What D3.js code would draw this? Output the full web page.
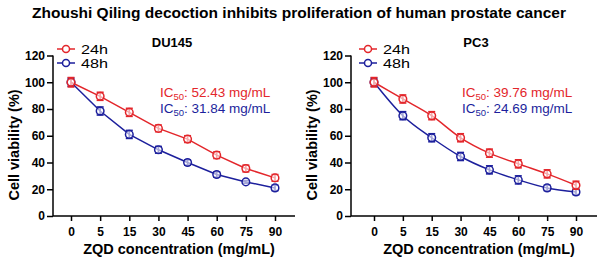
<!DOCTYPE html>
<html>
<head>
<meta charset="utf-8">
<script src="https://cdn.jsdelivr.net/npm/d3@7"></script>
<style>
  body { margin: 0; background: #fff; }
  svg { font-family: Arial, "Liberation Sans", sans-serif; }
</style>
</head>
<body>
<div id="chart"></div>
<script>
const concentrations = ["0", "5", "15", "30", "45", "60", "75", "90"];
const yTicks = [0, 20, 40, 60, 80, 100, 120];

const du145_24h = [100, 89.5, 77.5, 65.5, 57.5, 45.5, 35.5, 28.5];
const du145_24h_err = [3.5, 3, 3, 2.5, 2.5, 2.5, 2.5, 2.5];
const du145_48h = [100, 78.5, 61, 49.5, 40, 31, 25.5, 21];
const du145_48h_err = [3, 3, 3, 2.5, 2, 2, 1, 2];

const pc3_24h = [100, 87.5, 75, 58.5, 47, 39, 31.5, 23];
const pc3_24h_err = [3.5, 3, 3, 3, 3, 3, 3, 3];
const pc3_48h = [100, 75, 58.5, 44.5, 34.5, 27, 21, 18];
const pc3_48h_err = [3, 3, 3, 3, 3, 3, 2, 2];

const red = "#e3262b";
const blue = "#1c1f9c";

const svg = d3.select("#chart")
    .append("svg")
    .attr("width", 600)
    .attr("height", 261);

svg.append("text")
    .attr("x", 299)
    .attr("y", 18)
    .attr("text-anchor", "middle")
    .style("font-size", "15.5px")
    .style("font-weight", "bold")
    .text("Zhoushi Qiling decoction inhibits proliferation of human prostate cancer");

const yScale = d3.scaleLinear().domain([0, 120]).range([216, 55.5]);

function panel(opt) {
    const g = svg.append("g");
    const xScale = d3.scalePoint().domain(concentrations).range([opt.x0, opt.x1]);

    // y axis
    const yAxis = g.append("g")
        .attr("transform", `translate(${opt.axisX},0)`)
        .call(d3.axisLeft(yScale).tickValues(yTicks).tickSize(6).tickPadding(2));
    yAxis.select(".domain").remove();
    yAxis.append("line").attr("y1", yScale(0)).attr("y2", yScale(120)).attr("stroke", "black").attr("stroke-width", 1.5);
    yAxis.selectAll(".tick line").attr("stroke-width", 1.5);
    yAxis.selectAll("text")
        .style("font-size", "12px")
        .style("font-weight", "bold")
        .style("font-family", "Arial, 'Liberation Sans', sans-serif")
        .attr("fill", "black");

    // x axis
    const xAxis = g.append("g")
        .attr("transform", `translate(0,${yScale(0)})`)
        .call(d3.axisBottom(xScale).tickSize(5).tickPadding(6));
    xAxis.select(".domain").remove();
    xAxis.append("line").attr("x1", opt.axisX).attr("x2", opt.axisEnd).attr("stroke", "black").attr("stroke-width", 1.5);
    xAxis.selectAll(".tick line").attr("stroke-width", 1.5);
    xAxis.selectAll("text")
        .style("font-size", "12px")
        .style("font-weight", "bold")
        .style("font-family", "Arial, 'Liberation Sans', sans-serif")
        .attr("fill", "black");

    g.append("text")
        .attr("x", (opt.axisX + opt.axisEnd) / 2 + 5)
        .attr("y", 254)
        .attr("text-anchor", "middle")
        .style("font-size", "14.5px")
        .style("font-weight", "bold")
        .text("ZQD concentration (mg/mL)");

    g.append("text")
        .attr("transform", "rotate(-90)")
        .attr("x", -145)
        .attr("y", opt.axisX - 34)
        .attr("text-anchor", "middle")
        .style("font-size", "14.5px")
        .style("font-weight", "bold")
        .text("Cell viability (%)");

    g.append("text")
        .attr("x", opt.titleX)
        .attr("y", 47)
        .attr("text-anchor", "middle")
        .style("font-size", "13px")
        .style("font-weight", "bold")
        .text(opt.name);

    const series = [
        { vals: opt.s48, err: opt.e48, color: blue },
        { vals: opt.s24, err: opt.e24, color: red }
    ];

    const line = d3.line()
        .x((d, i) => xScale(concentrations[i]))
        .y(d => yScale(d))
        .curve(opt.curve);

    series.forEach(s => {
        const sg = g.append("g");
        sg.append("path")
            .datum(s.vals)
            .attr("d", line)
            .attr("fill", "none")
            .attr("stroke", s.color)
            .attr("stroke-width", 1.5);

        const pts = sg.selectAll(".pt")
            .data(s.vals.map((v, i) => ({ v: v, e: s.err[i], c: concentrations[i] })))
            .enter().append("g")
            .attr("transform", d => `translate(${xScale(d.c)},0)`);

        pts.append("line")
            .attr("y1", d => yScale(d.v + d.e))
            .attr("y2", d => yScale(d.v - d.e))
            .attr("stroke", s.color)
            .attr("stroke-width", 1.6);
        pts.append("line")
            .attr("x1", -3.5).attr("x2", 3.5)
            .attr("y1", d => yScale(d.v + d.e))
            .attr("y2", d => yScale(d.v + d.e))
            .attr("stroke", s.color)
            .attr("stroke-width", 1.6);
        pts.append("line")
            .attr("x1", -3.5).attr("x2", 3.5)
            .attr("y1", d => yScale(d.v - d.e))
            .attr("y2", d => yScale(d.v - d.e))
            .attr("stroke", s.color)
            .attr("stroke-width", 1.6);
        pts.append("circle")
            .attr("cy", d => yScale(d.v))
            .attr("r", 3.8)
            .attr("fill", "white")
            .attr("fill-opacity", 0.6)
            .attr("stroke", s.color)
            .attr("stroke-width", 1.5);
    });

    // legend
    const legend = [
        { label: "24h", color: red, y: 49 },
        { label: "48h", color: blue, y: 63 }
    ];
    legend.forEach(l => {
        g.append("line")
            .attr("x1", opt.legendX).attr("x2", opt.legendX + 18)
            .attr("y1", l.y).attr("y2", l.y)
            .attr("stroke", l.color).attr("stroke-width", 1.5);
        g.append("circle")
            .attr("cx", opt.legendX + 9).attr("cy", l.y).attr("r", 3.5)
            .attr("fill", "white").attr("stroke", l.color).attr("stroke-width", 1.5);
        g.append("text")
            .attr("x", opt.legendX + 24)
            .attr("y", l.y + 4.5)
            .attr("textLength", 27)
            .attr("lengthAdjust", "spacingAndGlyphs")
            .style("font-size", "12px")
            .text(l.label);
    });

    // IC50 labels
    opt.ic50.forEach((ic, i) => {
        const t = g.append("text")
            .attr("x", opt.icX)
            .attr("y", 97 + i * 16)
            .attr("fill", i === 0 ? red : blue)
            .style("font-size", "13.5px");
        t.append("tspan").text("IC");
        t.append("tspan").attr("dy", 3).style("font-size", "9.5px").text("50");
        t.append("tspan").attr("dy", -3).text(`: ${ic} mg/mL`);
    });
}

panel({
    name: "DU145", axisX: 53, axisEnd: 295, x0: 71, x1: 275, titleX: 172,
    legendX: 57, icX: 160, ic50: ["52.43", "31.84"],
    s24: du145_24h, e24: du145_24h_err, s48: du145_48h, e48: du145_48h_err,
    curve: d3.curveLinear
});

panel({
    name: "PC3", axisX: 351, axisEnd: 597, x0: 374, x1: 576, titleX: 476,
    legendX: 359, icX: 462, ic50: ["39.76", "24.69"],
    s24: pc3_24h, e24: pc3_24h_err, s48: pc3_48h, e48: pc3_48h_err,
    curve: d3.curveMonotoneX
});
</script>
</body>
</html>
